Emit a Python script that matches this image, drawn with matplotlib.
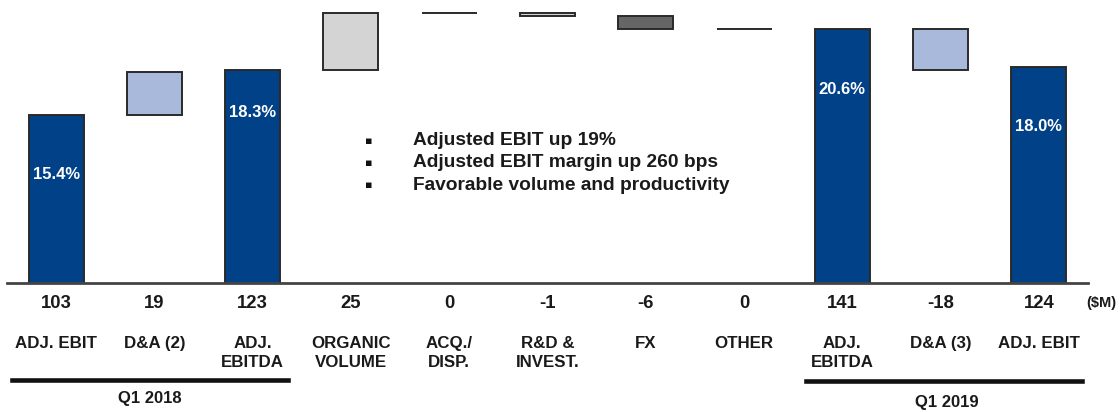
import matplotlib
matplotlib.use("Agg")
import matplotlib.pyplot as plt
from matplotlib.transforms import blended_transform_factory
from matplotlib.lines import Line2D

plt.rcParams['font.family'] = ['Liberation Sans', 'DejaVu Sans']

# Bridge items, in order
categories = ["ADJ. EBIT", "D&A (2)", "ADJ.\nEBITDA", "ORGANIC\nVOLUME", "ACQ./\nDISP.",
              "R&D &\nINVEST.", "FX", "OTHER", "ADJ.\nEBITDA", "D&A (3)", "ADJ. EBIT"]
values = [103, 19, 123, 25, 0, -1, -6, 0, 141, -18, 124]
is_total = [True, False, True, False, False, False, False, False, True, False, True]
margins = {0: "15.4%", 2: "18.3%", 8: "20.6%", 10: "18.0%"}
margin_levels = {0: 76.4, 2: 103.7, 8: 114.3, 10: 97.5}
value_labels = ["103", "19", "123", "25", "0", "-1", "-6", "0", "141", "-18", "124"]
unit_label = "($M)"
periods = ["Q1 2018", "Q1 2019"]
bullets = ["Adjusted EBIT up 19%", "Adjusted EBIT margin up 260 bps",
           "Favorable volume and productivity"]

TOTAL_C = "#004187"
DA_C = "#A9B9DB"
VOL_C = "#D4D4D4"
FX_C = "#666666"
EDGE = "#2a2a2a"
TXT = "#1a1a1a"

W, H = 1120, 412
fig = plt.figure(figsize=(W / 100, H / 100), dpi=100)
ax = fig.add_axes([7 / W, (H - 283) / H, 1081 / W, 283 / H])

# Running level for the waterfall
level = 0
bottoms, heights, colors = [], [], []
for i, (v, tot) in enumerate(zip(values, is_total)):
    if tot:
        bottoms.append(0)
        heights.append(v)
        colors.append(TOTAL_C)
        level = v
    else:
        bottoms.append(level)
        heights.append(v)
        level += v
        if categories[i].startswith("D&A"):
            colors.append(DA_C)
        elif categories[i] == "FX":
            colors.append(FX_C)
        else:
            colors.append(VOL_C)

x = list(range(len(values)))
ax.bar(x, heights, bottom=bottoms, width=0.56, color=colors,
       edgecolor=EDGE, linewidth=1.4, zorder=2)

for i, txt in margins.items():
    ax.text(i, margin_levels[i], txt, color="white", fontsize=12,
            fontweight="bold", ha="center", va="center", zorder=3)

ax.set_xlim(-0.5, 10.5)
ax.set_ylim(28, 154)
for s in ["top", "right", "left"]:
    ax.spines[s].set_visible(False)
ax.spines["bottom"].set_color("#444444")
ax.spines["bottom"].set_linewidth(2)
ax.set_xticks([])
ax.set_yticks([])

# Labels below the axis (x in data, y in figure pixels)
tr = blended_transform_factory(ax.transData, fig.transFigure)

def fy(p):
    return 1 - p / H

for i in x:
    ax.text(i, fy(303), value_labels[i], transform=tr, ha="center", va="center",
            fontsize=13.3, fontweight="bold", color=TXT)
    ax.text(i, fy(336), categories[i], transform=tr, ha="center", va="top",
            fontsize=12.2, fontweight="bold", color=TXT, linespacing=1.3)

fig.text(1116 / W, fy(303), unit_label, ha="right", va="center",
         fontsize=10.5, fontweight="bold", color=TXT)

# Period brackets
for (x0, x1, xc, ly, ty), lab in zip([(-0.446, 2.36, 0.95, 380, 398),
                                      (7.63, 10.44, 9.06, 381, 402)], periods):
    fig.add_artist(Line2D([x0, x1], [fy(ly), fy(ly)], transform=tr,
                          color="#111111", linewidth=3.3))
    ax.text(xc, fy(ty), lab, transform=tr, ha="center", va="center",
            fontsize=12, fontweight="bold", color=TXT)

# Commentary bullets
for k, line in enumerate(bullets):
    yy = fy(140.7 + 22.2 * k)
    fig.text(369 / W, yy, "\u25aa", ha="center", va="center", fontsize=8,
             family="DejaVu Sans", color="#111111")
    fig.text(413 / W, yy, line, ha="left", va="center", fontsize=13.8,
             fontweight="bold", color=TXT)

fig.savefig("out.png", dpi=100)
